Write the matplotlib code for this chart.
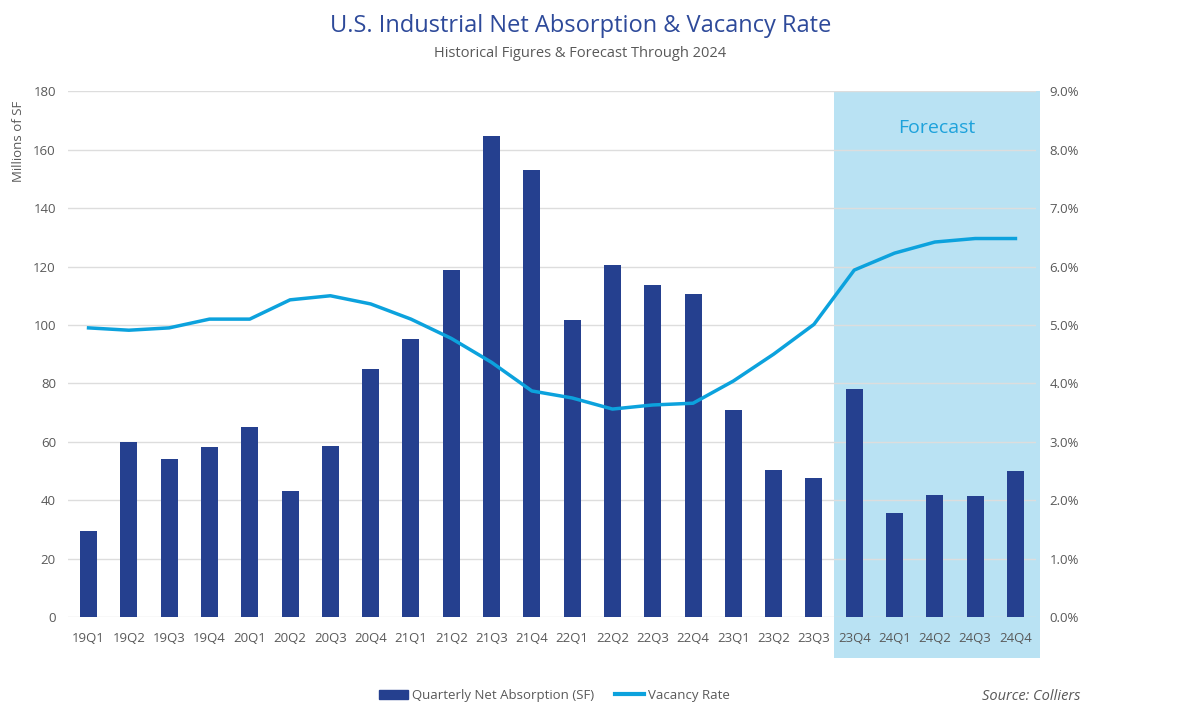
import matplotlib.pyplot as plt
from matplotlib.patches import Rectangle
from matplotlib.lines import Line2D

plt.rcParams['font.family'] = ['Open Sans', 'DejaVu Sans']

quarters = ['19Q1', '19Q2', '19Q3', '19Q4', '20Q1', '20Q2', '20Q3', '20Q4',
            '21Q1', '21Q2', '21Q3', '21Q4', '22Q1', '22Q2', '22Q3', '22Q4',
            '23Q1', '23Q2', '23Q3', '23Q4', '24Q1', '24Q2', '24Q3', '24Q4']
absorption = [29.5, 60.0, 54.0, 58.3, 65.0, 43.2, 58.6, 84.8,
              95.3, 118.8, 164.8, 153.2, 101.8, 120.4, 113.6, 110.6,
              71.0, 50.4, 47.7, 78.0, 35.6, 41.9, 41.4, 50.0]
vacancy = [4.95, 4.91, 4.95, 5.10, 5.10, 5.43, 5.50, 5.36,
           5.10, 4.77, 4.36, 3.87, 3.75, 3.56, 3.63, 3.66,
           4.04, 4.50, 5.01, 5.94, 6.23, 6.42, 6.48, 6.48]
forecast_start = 19  # index of first forecast quarter (23Q4)

bar_color = '#25408F'
line_color = '#0CA2DD'
box_color = '#B9E2F3'
grey = '#595959'

fig = plt.figure(figsize=(12, 7.25), dpi=100)
ax = fig.add_axes([0.057, 0.149, 0.806, 0.725])
x = list(range(len(quarters)))

# forecast shading, runs a bit below the axis
ax.add_patch(Rectangle((forecast_start - 0.5, -14), len(quarters) - forecast_start + 0.1, 194,
                       facecolor=box_color, edgecolor='none', zorder=0, clip_on=False))
ax.text((forecast_start - 0.5 + len(quarters) - 0.4) / 2, 167.5, 'Forecast',
        color='#1DA2DB', fontsize=14, ha='center', va='center')

ax.bar(x, absorption, width=0.42, color=bar_color, zorder=2)
ax.set_xlim(-0.5, len(quarters) - 0.5)
ax.set_ylim(0, 180)
ax.set_yticks(range(0, 181, 20))
ax.yaxis.grid(True, color='#DDDDDD', linewidth=1, zorder=1)
ax.set_axisbelow(True)
ax.set_xticks(x)
ax.set_xticklabels(quarters)
ax.tick_params(colors=grey, labelsize=9.5, length=0)
ax.tick_params(axis='y', pad=9)
ax.tick_params(axis='x', pad=11)
for s in ax.spines.values():
    s.set_visible(False)
ax.set_ylabel('Millions of SF', color=grey, fontsize=9.5)
ax.yaxis.set_label_coords(-0.045, 0.905)

ax2 = ax.twinx()
ax2.plot(x, vacancy, color=line_color, linewidth=2.5, zorder=3)
ax2.set_ylim(0, 9)
ax2.set_yticks(range(0, 10))
ax2.set_yticklabels(['{:.1f}%'.format(v) for v in range(0, 10)])
ax2.tick_params(colors=grey, labelsize=9.5, length=0, pad=10)
for s in ax2.spines.values():
    s.set_visible(False)

fig.text(0.4835, 0.964, 'U.S. Industrial Net Absorption & Vacancy Rate',
         ha='center', va='center', color='#2E4A9A', fontsize=17)
fig.text(0.4835, 0.926, 'Historical Figures & Forecast Through 2024',
         ha='center', va='center', color=grey, fontsize=10.5)

handles = [Rectangle((0, 0), 1, 1, color=bar_color),
           Line2D([0], [0], color=line_color, linewidth=3)]
fig.legend(handles, ['Quarterly Net Absorption (SF)', 'Vacancy Rate'],
           loc='center', bbox_to_anchor=(0.462, 0.041), ncol=2, frameon=False,
           fontsize=9.5, labelcolor=grey, handlelength=2.2, handletextpad=0.3,
           columnspacing=1.6)
fig.text(0.9, 0.04, 'Source: Colliers', ha='right', va='center',
         color=grey, fontsize=10.5, style='italic')

fig.savefig('out.png', dpi=100)
